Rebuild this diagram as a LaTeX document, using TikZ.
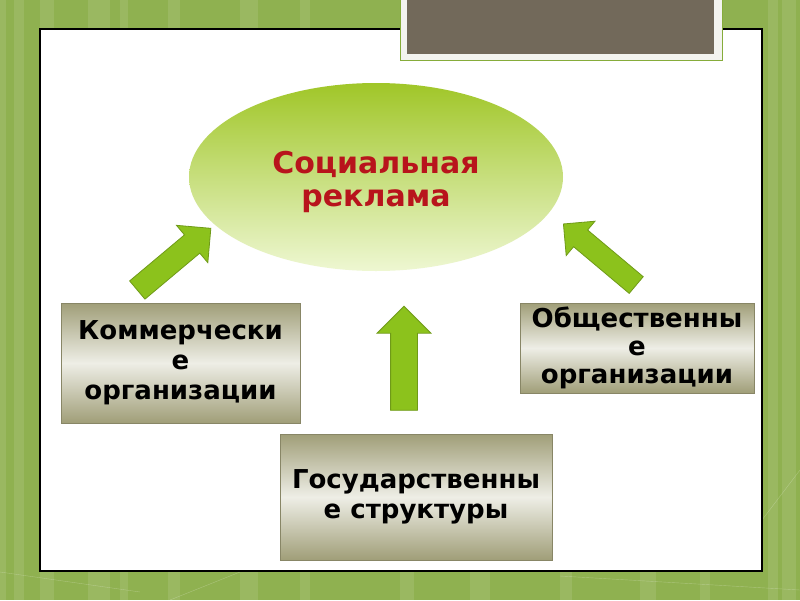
\documentclass[tikz,border=0pt]{standalone}
\usepackage{fontspec}
\setmainfont{DejaVu Sans}
\usetikzlibrary{shapes.geometric,shapes.arrows}
\definecolor{bggreen}{HTML}{8FB150}
\definecolor{titlebrown}{HTML}{72695A}
\definecolor{titleframe}{HTML}{F3F3EF}
\definecolor{titleedge}{HTML}{86AC3A}
\definecolor{arrowgreen}{HTML}{8CC21C}
\definecolor{arrowedge}{HTML}{6F9A18}
\definecolor{ovaldark}{HTML}{A0C628}
\definecolor{ovallight}{HTML}{EEF7D2}
\definecolor{boxdark}{HTML}{A09E78}
\definecolor{boxlight}{HTML}{EEEEE6}
\definecolor{textred}{HTML}{B8141C}
\begin{document}
\begin{tikzpicture}[x=1pt,y=-1pt,
  oval/.style={ellipse, inner sep=0pt, minimum width=374pt, minimum height=188pt,
    top color=ovaldark, bottom color=ovallight, align=center, text=textred,
    font=\bfseries\fontsize{30}{33}\selectfont},
  srcbox/.style={rectangle, inner sep=0pt, draw=boxdark!85!black, line width=0.6pt,
    top color=boxdark, bottom color=boxdark, middle color=boxlight, align=center,
    font=\bfseries\fontsize{26}{30}\selectfont},
  blockarrow/.style={single arrow, inner xsep=0pt, draw=arrowedge, fill=arrowgreen,
    line width=0.8pt, single arrow head indent=0pt}]
\useasboundingbox (0,0) rectangle (800,600);
\fill [bggreen] (0,0) rectangle (800,600);
\foreach \x/\w in {0/6,14/10,40/14,88/22,120/8,168/12,240/18,300/10,400/14,470/20,560/12,640/16,700/10,768/10,782/14}
  \fill [white, opacity=0.1] (\x,0) rectangle (\x+\w,600);
\draw [white, opacity=0.25] (0,572) -- (140,592);
\draw [white, opacity=0.25] (170,600) -- (240,572);
\draw [white, opacity=0.25] (560,576) -- (800,590);
\draw [white, opacity=0.25] (762,520) -- (800,470);
\draw [black, line width=1.2pt, fill=white] (40,29) rectangle (762,571);
\node [rectangle, draw=titleedge, fill=titleframe, minimum width=322pt, minimum height=62pt] (frame) at (561,29) {};
\node [rectangle, fill=titlebrown, minimum width=307pt, minimum height=55pt] (title) at (560.5,26) {};
\node [oval] (soc) at (376,177) {\rule{0pt}{33pt}Социальная\\реклама};
\node [srcbox, minimum width=239pt, minimum height=120pt] (comm) at (180.5,363) {Коммерчески\\е\\организации};
\node [srcbox, minimum width=234pt, minimum height=90pt, font=\bfseries\fontsize{26}{28}\selectfont] (pub) at (637,348) {Общественны\\е\\организации};
\node [srcbox, minimum width=272pt, minimum height=126pt] (gov) at (416,497) {Государственны\\е структуры};
\node [blockarrow, minimum height=96pt, minimum width=48pt, inner ysep=11.5pt, single arrow head extend=12.5pt, rotate=40] (acomm) at (169.5,263) {};
\node [blockarrow, minimum height=95pt, minimum width=44pt, inner ysep=10.5pt, single arrow head extend=11.5pt, rotate=140] (apub) at (604,258) {};
\node [blockarrow, minimum height=104pt, minimum width=53pt, inner ysep=13pt, single arrow head extend=13.5pt, rotate=90] (agov) at (404,365) {};
\end{tikzpicture}
\end{document}
